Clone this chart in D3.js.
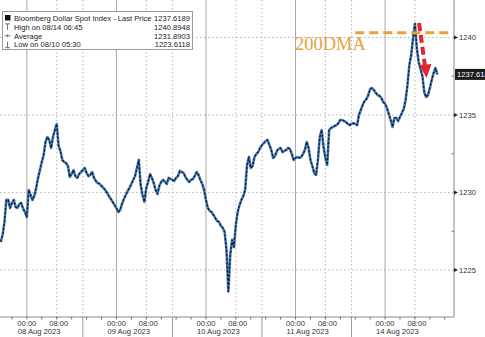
<!doctype html>
<html lang="en">
<head>
<meta charset="UTF-8">
<title>Bloomberg Dollar Spot Index</title>
<script src="https://d3js.org/d3.v7.min.js"></script>
<style>
  body { margin: 0; background: #fff; overflow: hidden; }
  text { font-family: 'Liberation Sans', Arial, sans-serif; }
</style>
</head>
<body>
<script>
// half-hourly prices, weekend squeezed out of the time axis
const dayLabels = ["08 Aug 2023", "09 Aug 2023", "10 Aug 2023", "11 Aug 2023", "14 Aug 2023"];
const aug07 = [1226.81, 1227.26, 1228.10, 1229.52, 1229.52, 1229.00, 1229.32, 1229.52, 1229.06, 1229.00, 1229.26, 1229.32,
               1228.94, 1228.74]; // from 17:00
const aug08 = [1228.42, 1230.16, 1229.84, 1229.52, 1229.77, 1230.29, 1230.94, 1231.45, 1231.97, 1232.42, 1233.26, 1233.58,
               1233.39, 1232.87, 1233.58, 1234.03, 1234.42, 1233.00, 1232.68, 1232.10, 1231.97, 1231.90, 1231.71, 1231.00,
               1231.19, 1231.45, 1231.06, 1230.94, 1231.19, 1231.32, 1231.45, 1231.58, 1231.26, 1231.06, 1231.13, 1231.32,
               1230.94, 1230.74, 1230.61, 1230.55, 1230.42, 1230.29, 1230.16, 1229.97, 1229.77, 1229.58, 1229.39, 1229.19];
const aug09 = [1229.00, 1228.74, 1228.87, 1229.26, 1229.58, 1229.84, 1230.10, 1230.29, 1230.55, 1230.81, 1231.06, 1231.58,
               1232.10, 1230.48, 1229.84, 1229.39, 1230.29, 1230.68, 1231.19, 1230.94, 1230.61, 1230.16, 1229.90, 1230.42,
               1230.68, 1230.81, 1230.68, 1230.55, 1230.94, 1230.87, 1230.81, 1230.74, 1230.94, 1231.06, 1231.39, 1231.32,
               1231.26, 1231.00, 1230.81, 1230.68, 1230.81, 1230.87, 1231.06, 1231.32, 1231.13, 1230.81, 1230.55, 1230.16];
const aug10 = [1229.52, 1229.00, 1228.81, 1228.74, 1228.55, 1228.35, 1228.16, 1228.10, 1227.84, 1227.71, 1227.45, 1226.29,
               1223.61, 1225.97, 1226.94, 1226.48, 1227.90, 1228.74, 1229.19, 1229.52, 1229.77, 1230.16, 1231.77, 1232.29,
               1231.58, 1231.71, 1232.29, 1232.48, 1232.61, 1232.87, 1233.06, 1233.19, 1233.32, 1233.39, 1233.06, 1232.74,
               1232.23, 1232.35, 1232.68, 1232.81, 1232.87, 1232.61, 1232.68, 1232.74, 1232.87, 1232.81, 1232.48, 1232.10];
const aug11 = [1232.23, 1232.29, 1232.23, 1232.29, 1232.48, 1232.74, 1233.26, 1232.87, 1232.10, 1231.71, 1231.26, 1231.13,
               1232.10, 1233.58, 1234.03, 1232.94, 1232.23, 1231.77, 1234.03, 1234.16, 1234.23, 1234.29, 1234.35, 1234.48,
               1234.68, 1234.68, 1234.61, 1234.55, 1234.42, 1234.35, 1234.42, 1234.48, 1234.42, 1234.35, 1235.00, 1235.32,
               1235.65, 1235.90, 1236.03, 1236.29, 1236.68, 1236.74, 1236.61, 1236.42, 1236.29, 1236.23, 1236.10, 1235.84];
const aug14 = [1235.71, 1235.45, 1235.06, 1234.68, 1234.23, 1234.81, 1234.81, 1234.61, 1234.87, 1235.13, 1235.39, 1235.97,
               1236.94, 1238.23, 1238.87, 1239.97, 1240.89, 1239.32, 1238.42, 1237.97, 1237.52, 1236.48, 1236.16, 1236.29,
               1236.74, 1237.26, 1237.71, 1238.03, 1237.62];

const yTicks = [1225, 1230, 1235, 1240];
const yMinor = [1227.5, 1232.5, 1237.5];
const legendNames = ["Bloomberg Dollar Spot Index - Last Price", "High on 08/14 06:45", "Average", "Low on 08/10 05:30"];
const legendValues = ["1237.6189", "1240.8948", "1231.8903", "1223.6118"];
const lastPrice = 1237.6189;
const dma200 = 1240.3;

const W = 485, H = 337;
const plotRight = 454, plotBottom = 317;

const svg = d3.select("body").append("svg")
    .attr("width", W)
    .attr("height", H);

// hours counted from 08 Aug 00:00, trading days only
const x = d3.scaleLinear().domain([-7.2, 114.2]).range([0, 453]);
const y = d3.scaleLinear().domain([1222.03, 1242.42]).range([316, 0]);

const series = [].concat(aug07, aug08, aug09, aug10, aug11, aug14)
    .map((v, i) => ({h: -7 + i * 0.5, v: v}));

// grid
const grid = svg.append("g");
yTicks.forEach(t => {
  grid.append("line")
      .attr("x1", 0).attr("x2", plotRight)
      .attr("y1", y(t)).attr("y2", y(t))
      .attr("stroke", "#b5b5b5")
      .attr("stroke-dasharray", "1.5,2.5");
});
dayLabels.forEach((d, i) => {
  const h0 = i * 24;
  grid.append("line")
      .attr("x1", x(h0)).attr("x2", x(h0))
      .attr("y1", 0).attr("y2", plotBottom)
      .attr("stroke", "#a8a8a8");
  grid.append("line")
      .attr("x1", x(h0 + 8)).attr("x2", x(h0 + 8))
      .attr("y1", 0).attr("y2", plotBottom)
      .attr("stroke", "#b5b5b5")
      .attr("stroke-dasharray", "1.5,2.5");
  if (i < dayLabels.length - 1) {
    grid.append("line")
        .attr("x1", x(h0 + 15)).attr("x2", x(h0 + 15))
        .attr("y1", 0).attr("y2", plotBottom)
        .attr("stroke", "#b5b5b5")
        .attr("stroke-dasharray", "1.5,2.5");
    // separator between date labels
    grid.append("line")
        .attr("x1", x(h0 + 15)).attr("x2", x(h0 + 15))
        .attr("y1", plotBottom).attr("y2", H)
        .attr("stroke", "#9a9a9a");
  }
});

// axes frame
svg.append("line")
    .attr("x1", 0).attr("x2", plotRight)
    .attr("y1", plotBottom).attr("y2", plotBottom)
    .attr("stroke", "#8a8a8a");
svg.append("line")
    .attr("x1", plotRight).attr("x2", plotRight)
    .attr("y1", 0).attr("y2", plotBottom)
    .attr("stroke", "#8a8a8a");

// x ticks every 4 hours
d3.range(-4, 114, 4).forEach(h => {
  svg.append("line")
      .attr("x1", x(h)).attr("x2", x(h))
      .attr("y1", plotBottom).attr("y2", plotBottom + 2.5)
      .attr("stroke", "#666");
});

const xLab = svg.append("g")
    .attr("font-size", 7.6)
    .attr("fill", "#333");
dayLabels.forEach((d, i) => {
  const h0 = i * 24;
  xLab.append("text").attr("x", x(h0)).attr("y", 325.5)
      .attr("text-anchor", "middle").text("00:00");
  xLab.append("text").attr("x", x(h0 + 8) + 2).attr("y", 325.5)
      .attr("text-anchor", "middle").text("08:00");
  xLab.append("text").attr("x", x(h0) - 9).attr("y", 334)
      .text(d);
});

// y ticks on the right
yTicks.forEach(t => {
  svg.append("path")
      .attr("d", `M${plotRight},${y(t) - 2}L${plotRight + 4},${y(t)}L${plotRight},${y(t) + 2}Z`)
      .attr("fill", "#222");
  svg.append("text")
      .attr("x", 459).attr("y", y(t) + 2.7)
      .attr("font-size", 7.6)
      .attr("fill", "#333")
      .text(t);
});
yMinor.forEach(t => {
  svg.append("line")
      .attr("x1", plotRight - 2.5).attr("x2", plotRight)
      .attr("y1", y(t)).attr("y2", y(t))
      .attr("stroke", "#777");
});

// price line: blue body with a dark trace on top
const line = d3.line()
    .x(d => x(d.h))
    .y(d => y(d.v));

svg.append("path")
    .datum(series)
    .attr("d", line)
    .attr("fill", "none")
    .attr("stroke", "#4a80bd")
    .attr("stroke-width", 2.6)
    .attr("stroke-linejoin", "round");
svg.append("path")
    .datum(series)
    .attr("d", line)
    .attr("fill", "none")
    .attr("stroke", "#111a26")
    .attr("stroke-width", 1.3)
    .attr("stroke-dasharray", "2.5,1.5")
    .attr("stroke-linejoin", "round");

// last price tag
svg.append("rect")
    .attr("x", 455).attr("y", y(lastPrice) - 5.5)
    .attr("width", 34).attr("height", 11)
    .attr("fill", "#1c1c1c");
svg.append("text")
    .attr("x", 457).attr("y", y(lastPrice) + 2.7)
    .attr("font-size", 7.6)
    .attr("fill", "#fff")
    .text(lastPrice.toFixed(4));

// 200DMA annotation
svg.append("line")
    .attr("x1", x(88)).attr("x2", 452)
    .attr("y1", y(dma200)).attr("y2", y(dma200))
    .attr("stroke", "#e9a23b")
    .attr("stroke-width", 3)
    .attr("stroke-dasharray", "9,5");
svg.append("text")
    .attr("x", 295).attr("y", 50)
    .style("font-family", "'Liberation Serif', 'DejaVu Serif', serif")
    .attr("font-size", 18.5)
    .attr("fill", "#e9a23b")
    .text("200DMA");

// red dashed arrow
svg.append("line")
    .attr("x1", 419).attr("y1", 23)
    .attr("x2", 425).attr("y2", 66)
    .attr("stroke", "#e3262b")
    .attr("stroke-width", 4)
    .attr("stroke-dasharray", "8,4");
svg.append("path")
    .attr("d", "M419.5,65L431.5,64L426.5,78Z")
    .attr("fill", "#e3262b");

// legend
const leg = svg.append("g");
leg.append("rect")
    .attr("x", 2.5).attr("y", 11.5)
    .attr("width", 190).attr("height", 38)
    .attr("fill", "#fff")
    .attr("stroke", "#9a9a9a");
legendNames.forEach((n, i) => {
  const cy = 18 + i * 8.9;
  leg.append("text")
      .attr("x", 14).attr("y", cy + 2.7)
      .attr("font-size", 7.6)
      .attr("fill", "#222")
      .text(n);
  leg.append("text")
      .attr("x", 190).attr("y", cy + 2.7)
      .attr("text-anchor", "end")
      .attr("font-size", 7.6)
      .attr("fill", "#222")
      .text(legendValues[i]);
});
leg.append("rect").attr("x", 5).attr("y", 15).attr("width", 5.5).attr("height", 5.5).attr("fill", "#111");
// high / average / low glyphs
const g2 = 18 + 8.9, g3 = 18 + 17.8, g4 = 18 + 26.7;
leg.append("path")
    .attr("d", `M5,${g2 - 3}H10M7.5,${g2 - 3}V${g2 + 3}` +
               `M4.5,${g3}H10.5M7.5,${g3 - 1.5}V${g3 + 1.5}` +
               `M7.5,${g4 - 3}V${g4 + 3}M5,${g4 + 3}H10`)
    .attr("stroke", "#777")
    .attr("fill", "none");
</script>
</body>
</html>
